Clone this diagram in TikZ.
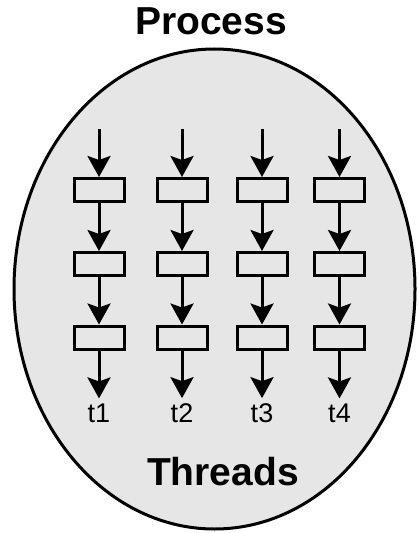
\documentclass[tikz,border=0pt]{standalone}
\usepackage{fontspec}
\setmainfont{Liberation Sans}
\usetikzlibrary{arrows.meta}
\definecolor{procfill}{RGB}{230,230,230}
\tikzset{
  threadbox/.style={draw=black, line width=3bp, minimum width=50bp, minimum height=23bp, inner sep=0pt},
  flow/.style={line width=3bp, -{Stealth[length=21bp,width=23bp,inset=4bp]}},
  tlabel/.style={font=\fontsize{27bp}{30bp}\selectfont, inner sep=0pt, outer sep=5bp},
  titletext/.style={font=\fontsize{39bp}{44bp}\selectfont\bfseries, inner sep=0pt, anchor=base}
}
\begin{document}
\begin{tikzpicture}[x=1bp,y=-1bp]
\useasboundingbox (0,0) rectangle (418,533);
\node[titletext] (title) at (211,35) {Process};
\draw[line width=3bp, fill=procfill] (214.5,289) ellipse [x radius=200.5, y radius=240];
\node[titletext] (threads) at (223,485) {Threads};
\foreach \i/\x in {1/99,2/182,3/262,4/339.5}{
  \coordinate (s\i) at (\x,129);
  \node[threadbox] (b\i1) at (\x,190) {};
  \node[threadbox] (b\i2) at (\x,264) {};
  \node[threadbox] (b\i3) at (\x,337.5) {};
  \node[tlabel, anchor=base] (t\i) at (\x,422) {t\i};
  \draw[flow] (s\i) -- (b\i1.north);
  \draw[flow] (b\i1.south) -- (b\i2.north);
  \draw[flow] (b\i2.south) -- (b\i3.north);
  \draw[flow] (b\i3.south) -- (t\i.north);
}
\end{tikzpicture}
\end{document}
